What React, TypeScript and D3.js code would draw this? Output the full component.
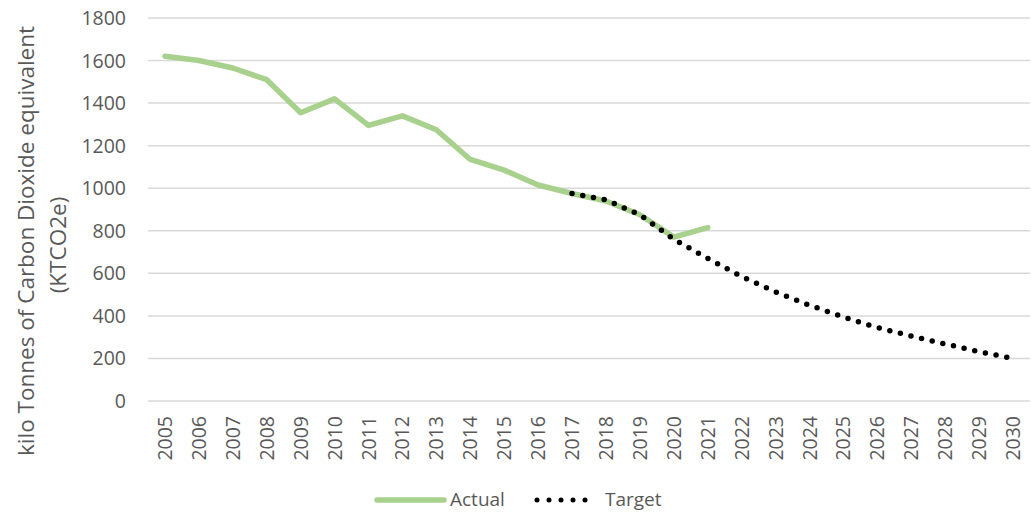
import React from "react";
import * as d3 from "d3";

const years = ["2005","2006","2007","2008","2009","2010","2011","2012","2013","2014","2015","2016","2017","2018","2019","2020","2021","2022","2023","2024","2025","2026","2027","2028","2029","2030"];
const actualYears = ["2005","2006","2007","2008","2009","2010","2011","2012","2013","2014","2015","2016","2017","2018","2019","2020","2021"];
const actualValues = [1620,1600,1565,1510,1355,1420,1295,1340,1275,1135,1085,1015,975,940,875,770,815];
const targetYears = ["2017","2018","2019","2020","2021","2022","2023","2024","2025","2026","2027","2028","2029","2030"];
const targetValues = [975,945,875,760,670,585,512,450,395,345,305,268,232,200];
const yTicks = [0,200,400,600,800,1000,1200,1400,1600,1800];

const W = 1031, H = 512;
const left = 148, right = 1030, top = 18, bottom = 401;
const FONT = "'Open Sans', sans-serif";
const TXT = "#595959";

export default function App() {
  const x = d3.scaleBand<string>().domain(years).range([left, right]);
  const y = d3.scaleLinear().domain([0, 1800]).range([bottom, top]);
  const cx = (yr: string) => (x(yr) as number) + x.bandwidth() / 2;
  const line = d3.line<[string, number]>().x(d => cx(d[0])).y(d => y(d[1]));
  const actual = actualYears.map((yr, i) => [yr, actualValues[i]] as [string, number]);
  const target = targetYears.map((yr, i) => [yr, targetValues[i]] as [string, number]);

  return (
    <svg width={W} height={H} style={{ position: "absolute", left: 0, top: 0, background: "#fff" }} fontFamily={FONT}>
      {yTicks.map(t => (
        <g key={t}>
          <line x1={left} x2={right} y1={y(t)} y2={y(t)} stroke="#d9d9d9" strokeWidth={1.5} />
          <text x={126} y={y(t)} dy="0.36em" textAnchor="end" fontSize={19.5} fill={TXT}>{t}</text>
        </g>
      ))}
      {years.map(yr => (
        <text key={yr} transform={`translate(${cx(yr) + 7},${416}) rotate(-90)`} textAnchor="end" fontSize={19.5} fill={TXT}>{yr}</text>
      ))}
      <text transform={`translate(34,241) rotate(-90)`} textAnchor="middle" fontSize={22.5} fill={TXT}>kilo Tonnes of Carbon Dioxide equivalent</text>
      <text transform={`translate(66,245) rotate(-90)`} textAnchor="middle" fontSize={22.5} fill={TXT}>(KTCO2e)</text>
      <path d={line(actual) || ""} fill="none" stroke="#a9d18e" strokeWidth={5.5} strokeLinejoin="round" strokeLinecap="round" />
      <path d={line(target) || ""} fill="none" stroke="#000" strokeWidth={5.5} strokeLinecap="round" strokeDasharray="0 10.9" />
      <line x1={377} x2={444} y1={500} y2={500} stroke="#a9d18e" strokeWidth={5.5} strokeLinecap="round" />
      <text x={450} y={506} fontSize={19} fill={TXT}>Actual</text>
      <line x1={537} x2={597} y1={500} y2={500} stroke="#000" strokeWidth={5} strokeLinecap="round" strokeDasharray="0 12" />
      <text x={605} y={506} fontSize={19} fill={TXT}>Target</text>
    </svg>
  );
}
